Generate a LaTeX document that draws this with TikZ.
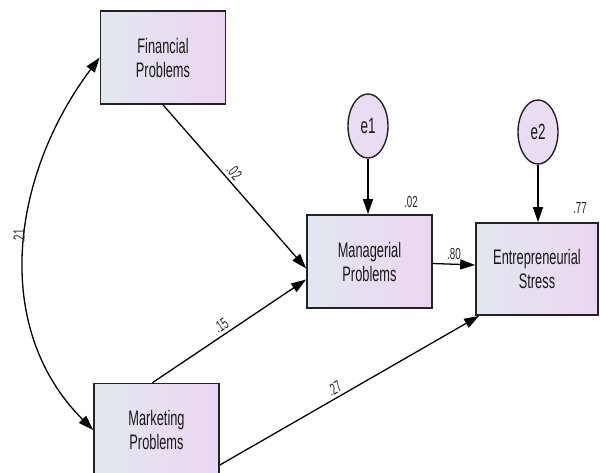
\documentclass[tikz,border=0pt]{standalone}
\usepackage{fontspec}
\setmainfont{Liberation Sans}[FakeStretch=0.61]
\usetikzlibrary{arrows.meta,shapes.geometric}
\definecolor{boxL}{RGB}{226,231,239}
\definecolor{boxR}{RGB}{236,214,242}
\definecolor{errfill}{RGB}{234,220,242}
\definecolor{edgeC}{RGB}{35,35,35}
\tikzset{
	varbox/.style={draw=edgeC, line width=1.7pt, left color=boxL, right color=boxR,
		minimum width=125pt, minimum height=93pt, inner sep=0pt, align=center,
		font=\fontsize{21}{24}\selectfont, text=black!90},
	errnode/.style={ellipse, draw=edgeC, line width=1.4pt, fill=errfill,
		minimum width=40pt, minimum height=64pt, inner sep=0pt,
		font=\fontsize{22}{24}\selectfont, text=black!90},
	path/.style={line width=1.3pt, -{Triangle[length=15pt,width=10pt]}},
	lbl/.style={font=\fontsize{16}{18}\selectfont, text=black!85, inner sep=1pt}
}
\begin{document}
\begin{tikzpicture}[x=1pt,y=-1pt]
	\clip (0,0) rectangle (600,473);
	% observed variables
	\node[varbox] (fin) at (163,57.5) {Financial\\Problems};
	\node[varbox] (mkt) at (156.5,430) {Marketing\\Problems};
	\node[varbox] (man) at (369.5,261.5) {Managerial\\Problems};
	\node[varbox, minimum width=122pt, minimum height=92pt] (str) at (537,269) {Entrepreneurial\\Stress};
	% error terms
	\node[errnode] (e1) at (368,126) {e1};
	\node[errnode] (e2) at (538,132) {e2};
	% regression paths
	\draw[path] (fin.south) -- node[lbl, pos=0.45, sloped, above=2pt] (r02) {.02} ([yshift=-7pt]man.west);
	\draw[path] ([xshift=-4pt]mkt.north) -- node[lbl, pos=0.48, sloped, above=2pt] (r15) {.15} ([yshift=-18pt]man.west);
	\draw[path] ([yshift=-2pt]man.east) -- node[lbl, midway, above=3pt] (r80) {.80} ([yshift=4pt]str.west);
	\draw[path] ([yshift=-35pt]mkt.east) -- node[lbl, pos=0.46, sloped, above=2pt] (r27) {.27} ([xshift=4pt]str.south west);
	\draw[path] (e1.south) -- (e1.south |- man.north);
	\draw[path] (e2.south) -- (e2.south |- str.north);
	% covariance
	\draw[line width=1.3pt, {Triangle[length=15pt,width=10pt]}-{Triangle[length=15pt,width=10pt]}]
		(mkt.west) to[out=135, in=233] (fin.west);
	\node[lbl, rotate=90] (r21) at (19,236) {.21};
	% squared multiple correlations
	\node[lbl] (sm1) at (411,202) {.02};
	\node[lbl] (sm2) at (580,208) {.77};
\end{tikzpicture}
\end{document}
